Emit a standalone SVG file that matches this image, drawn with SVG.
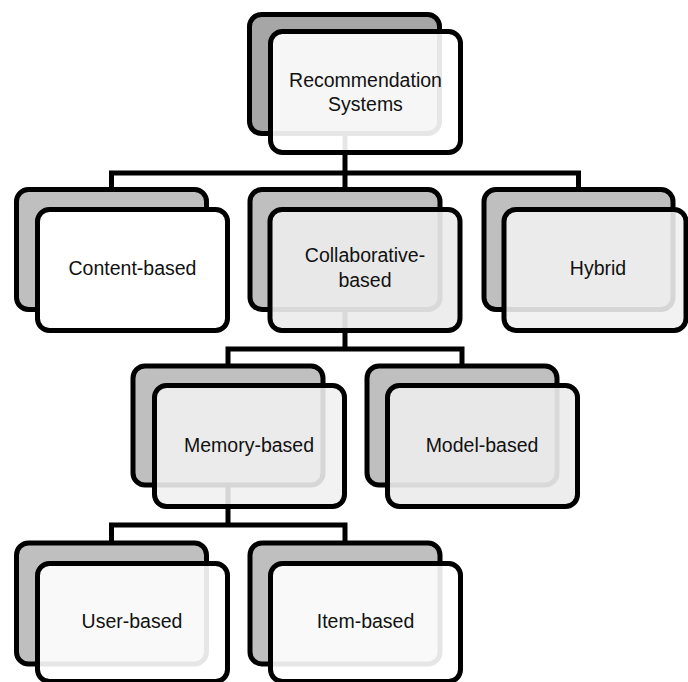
<svg xmlns="http://www.w3.org/2000/svg" width="688" height="682" viewBox="0 0 688 682">
<style>
.conn{fill:none;stroke:#000;stroke-width:5}
.back{fill:#bfbfbf;stroke:#000;stroke-width:5}
.back.dark{fill:#a6a6a6}
.front{stroke:#000;stroke-width:5}
.light{fill:#ffffff;fill-opacity:0.9}
.white{fill:#ffffff}
.grey{fill:#f0f0f0;fill-opacity:0.89}
.grey2{fill:#ececec;fill-opacity:0.92}
text{font-family:"Liberation Sans",Arial,sans-serif;font-size:19.5px;fill:#111;text-anchor:middle}
</style>
<rect width="688" height="682" fill="#fff"/>
<g id="connectors">
<path class="conn" d="M345 133 V173"/>
<path class="conn" d="M111.5 189.5 V173 H578.5 V189.5 M345 173 V189.5"/>
<path class="conn" d="M345 310 V349"/>
<path class="conn" d="M228 366 V349 H462 V366"/>
<path class="conn" d="M228 485 V525"/>
<path class="conn" d="M111.5 543 V525 H345 V543"/>
</g>
<g id="recommendation-systems">
<rect class="back dark" x="249.5" y="14.5" width="190" height="119" rx="12"/>
<rect class="front light" x="270.5" y="31.5" width="190" height="121" rx="12"/>
<text x="365.5" y="87">Recommendation</text>
<text x="365.5" y="111">Systems</text>
</g>
<g id="content-based">
<rect class="back" x="16.5" y="189.5" width="190" height="120" rx="12"/>
<rect class="front white" x="37.5" y="209.5" width="190" height="121" rx="12"/>
<text x="132.5" y="275">Content-based</text>
</g>
<g id="collaborative-based">
<rect class="back" x="250" y="189.5" width="190" height="120" rx="12"/>
<rect class="front grey2" x="270" y="209.5" width="190" height="121" rx="12"/>
<text x="365" y="262">Collaborative-</text>
<text x="365" y="287">based</text>
</g>
<g id="hybrid">
<rect class="back" x="484" y="189.5" width="189" height="120" rx="12"/>
<rect class="front grey" x="504" y="209.5" width="182" height="121" rx="12"/>
<text x="598" y="275">Hybrid</text>
</g>
<g id="memory-based">
<rect class="back" x="133" y="366" width="190" height="119" rx="12"/>
<rect class="front grey" x="154.5" y="385.5" width="190" height="121" rx="12"/>
<text x="249" y="452">Memory-based</text>
</g>
<g id="model-based">
<rect class="back" x="367" y="366" width="190" height="119" rx="12"/>
<rect class="front grey2" x="387.5" y="385.5" width="190" height="121" rx="12"/>
<text x="482" y="452">Model-based</text>
</g>
<g id="user-based">
<rect class="back" x="16.5" y="543" width="190" height="121" rx="12"/>
<rect class="front light" x="37.5" y="563.5" width="190" height="118" rx="12"/>
<text x="132" y="628">User-based</text>
</g>
<g id="item-based">
<rect class="back" x="250" y="543" width="190" height="121" rx="12"/>
<rect class="front light" x="270.5" y="563.5" width="190" height="118" rx="12"/>
<text x="365.5" y="628">Item-based</text>
</g>
</svg>
